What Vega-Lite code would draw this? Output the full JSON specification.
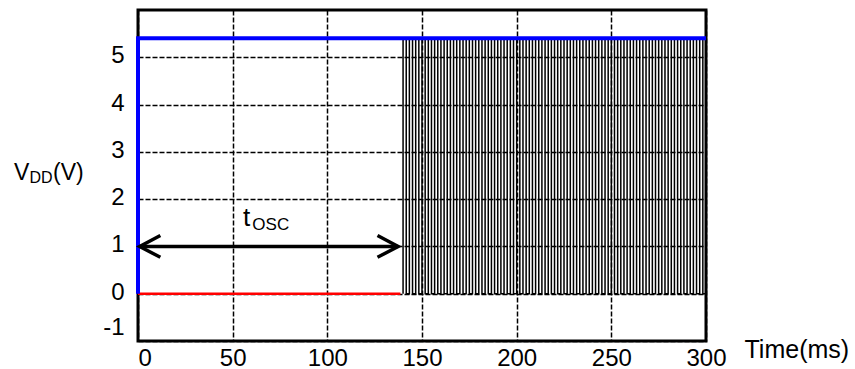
{
  "$schema": "https://vega.github.io/schema/vega-lite/v6.json",
  "width": 568,
  "height": 331,
  "autosize": {"type": "none"},
  "padding": {"left": 138, "top": 10, "right": 149, "bottom": 28},
  "config": {
    "view": {"stroke": "black", "strokeWidth": 3},
    "font": "Liberation Sans"
  },
  "datasets": {
    "wave": [
      {"t":140,"v":0},{"t":140,"v":5.4},{"t":141.67,"v":5.4},{"t":141.67,"v":0},
      {"t":143.33,"v":0},{"t":143.33,"v":5.4},{"t":145,"v":5.4},{"t":145,"v":0},
      {"t":146.67,"v":0},{"t":146.67,"v":5.4},{"t":148.33,"v":5.4},{"t":148.33,"v":0},
      {"t":150,"v":0},{"t":150,"v":5.4},{"t":151.67,"v":5.4},{"t":151.67,"v":0},
      {"t":153.33,"v":0},{"t":153.33,"v":5.4},{"t":155,"v":5.4},{"t":155,"v":0},
      {"t":156.67,"v":0},{"t":156.67,"v":5.4},{"t":158.33,"v":5.4},{"t":158.33,"v":0},
      {"t":160,"v":0},{"t":160,"v":5.4},{"t":161.67,"v":5.4},{"t":161.67,"v":0},
      {"t":163.33,"v":0},{"t":163.33,"v":5.4},{"t":165,"v":5.4},{"t":165,"v":0},
      {"t":166.67,"v":0},{"t":166.67,"v":5.4},{"t":168.33,"v":5.4},{"t":168.33,"v":0},
      {"t":170,"v":0},{"t":170,"v":5.4},{"t":171.67,"v":5.4},{"t":171.67,"v":0},
      {"t":173.33,"v":0},{"t":173.33,"v":5.4},{"t":175,"v":5.4},{"t":175,"v":0},
      {"t":176.67,"v":0},{"t":176.67,"v":5.4},{"t":178.33,"v":5.4},{"t":178.33,"v":0},
      {"t":180,"v":0},{"t":180,"v":5.4},{"t":181.67,"v":5.4},{"t":181.67,"v":0},
      {"t":183.33,"v":0},{"t":183.33,"v":5.4},{"t":185,"v":5.4},{"t":185,"v":0},
      {"t":186.67,"v":0},{"t":186.67,"v":5.4},{"t":188.33,"v":5.4},{"t":188.33,"v":0},
      {"t":190,"v":0},{"t":190,"v":5.4},{"t":191.67,"v":5.4},{"t":191.67,"v":0},
      {"t":193.33,"v":0},{"t":193.33,"v":5.4},{"t":195,"v":5.4},{"t":195,"v":0},
      {"t":196.67,"v":0},{"t":196.67,"v":5.4},{"t":198.33,"v":5.4},{"t":198.33,"v":0},
      {"t":200,"v":0},{"t":200,"v":5.4},{"t":201.67,"v":5.4},{"t":201.67,"v":0},
      {"t":203.33,"v":0},{"t":203.33,"v":5.4},{"t":205,"v":5.4},{"t":205,"v":0},
      {"t":206.67,"v":0},{"t":206.67,"v":5.4},{"t":208.33,"v":5.4},{"t":208.33,"v":0},
      {"t":210,"v":0},{"t":210,"v":5.4},{"t":211.67,"v":5.4},{"t":211.67,"v":0},
      {"t":213.33,"v":0},{"t":213.33,"v":5.4},{"t":215,"v":5.4},{"t":215,"v":0},
      {"t":216.67,"v":0},{"t":216.67,"v":5.4},{"t":218.33,"v":5.4},{"t":218.33,"v":0},
      {"t":220,"v":0},{"t":220,"v":5.4},{"t":221.67,"v":5.4},{"t":221.67,"v":0},
      {"t":223.33,"v":0},{"t":223.33,"v":5.4},{"t":225,"v":5.4},{"t":225,"v":0},
      {"t":226.67,"v":0},{"t":226.67,"v":5.4},{"t":228.33,"v":5.4},{"t":228.33,"v":0},
      {"t":230,"v":0},{"t":230,"v":5.4},{"t":231.67,"v":5.4},{"t":231.67,"v":0},
      {"t":233.33,"v":0},{"t":233.33,"v":5.4},{"t":235,"v":5.4},{"t":235,"v":0},
      {"t":236.67,"v":0},{"t":236.67,"v":5.4},{"t":238.33,"v":5.4},{"t":238.33,"v":0},
      {"t":240,"v":0},{"t":240,"v":5.4},{"t":241.67,"v":5.4},{"t":241.67,"v":0},
      {"t":243.33,"v":0},{"t":243.33,"v":5.4},{"t":245,"v":5.4},{"t":245,"v":0},
      {"t":246.67,"v":0},{"t":246.67,"v":5.4},{"t":248.33,"v":5.4},{"t":248.33,"v":0},
      {"t":250,"v":0},{"t":250,"v":5.4},{"t":251.67,"v":5.4},{"t":251.67,"v":0},
      {"t":253.33,"v":0},{"t":253.33,"v":5.4},{"t":255,"v":5.4},{"t":255,"v":0},
      {"t":256.67,"v":0},{"t":256.67,"v":5.4},{"t":258.33,"v":5.4},{"t":258.33,"v":0},
      {"t":260,"v":0},{"t":260,"v":5.4},{"t":261.67,"v":5.4},{"t":261.67,"v":0},
      {"t":263.33,"v":0},{"t":263.33,"v":5.4},{"t":265,"v":5.4},{"t":265,"v":0},
      {"t":266.67,"v":0},{"t":266.67,"v":5.4},{"t":268.33,"v":5.4},{"t":268.33,"v":0},
      {"t":270,"v":0},{"t":270,"v":5.4},{"t":271.67,"v":5.4},{"t":271.67,"v":0},
      {"t":273.33,"v":0},{"t":273.33,"v":5.4},{"t":275,"v":5.4},{"t":275,"v":0},
      {"t":276.67,"v":0},{"t":276.67,"v":5.4},{"t":278.33,"v":5.4},{"t":278.33,"v":0},
      {"t":280,"v":0},{"t":280,"v":5.4},{"t":281.67,"v":5.4},{"t":281.67,"v":0},
      {"t":283.33,"v":0},{"t":283.33,"v":5.4},{"t":285,"v":5.4},{"t":285,"v":0},
      {"t":286.67,"v":0},{"t":286.67,"v":5.4},{"t":288.33,"v":5.4},{"t":288.33,"v":0},
      {"t":290,"v":0},{"t":290,"v":5.4},{"t":291.67,"v":5.4},{"t":291.67,"v":0},
      {"t":293.33,"v":0},{"t":293.33,"v":5.4},{"t":295,"v":5.4},{"t":295,"v":0},
      {"t":296.67,"v":0},{"t":296.67,"v":5.4},{"t":298.33,"v":5.4},{"t":298.33,"v":0},
      {"t":300,"v":0},{"t":300,"v":5.4}
    ],
    "red": [{"t":0,"v":0},{"t":138.6,"v":0}],
    "blue": [{"t":0,"v":0},{"t":0,"v":5.4},{"t":300,"v":5.4}],
    "arrow": [
      {"g":"s","t":0.9,"v":1},{"g":"s","t":137.4,"v":1},
      {"g":"l","t":11.8,"v":1.23},{"g":"l","t":0.9,"v":1},{"g":"l","t":11.8,"v":0.77},
      {"g":"r","t":126.5,"v":1.23},{"g":"r","t":137.4,"v":1},{"g":"r","t":126.5,"v":0.77}
    ]
  },
  "layer": [
    {
      "data": {"name": "wave"},
      "mark": {"type": "line", "color": "black", "strokeWidth": 1.5},
      "encoding": {
        "x": {
          "field": "t", "type": "quantitative",
          "scale": {"domain": [0, 300], "nice": false, "zero": false},
          "axis": {
            "values": [0, 50, 100, 150, 200, 250, 300],
            "title": "Time(ms)", "titleX": 606, "titleY": 16, "titleAlign": "left",
            "titleAnchor": "start", "titleBaseline": "alphabetic",
            "titleFontSize": 25, "titleFontWeight": "normal", "titleColor": "black",
            "grid": true, "gridColor": "black", "gridDash": [5, 2], "gridWidth": 1.5, "gridOpacity": 1,
            "domain": false, "ticks": false,
            "labelFontSize": 24, "labelColor": "black", "labelPadding": 5, "labelFlush": false,
            "labelAlign": {"condition": {"test": "datum.value == 0", "value": "left"}, "value": "center"}
          }
        },
        "y": {
          "field": "v", "type": "quantitative",
          "scale": {"domain": [-1, 6], "nice": false, "zero": false},
          "axis": {
            "values": [-1, 0, 1, 2, 3, 4, 5],
            "title": null,
            "grid": true, "gridColor": "black", "gridDash": [5, 2], "gridWidth": 1.5, "gridOpacity": 1,
            "domain": false, "ticks": false,
            "labelExpr": "'' + datum.value",
            "labelFontSize": 24, "labelColor": "black", "labelPadding": 14, "labelFlush": true,
            "labelOffset": -1.5
          }
        },
        "order": {"value": null}
      }
    },
    {
      "data": {"name": "red"},
      "mark": {"type": "line", "color": "#ff0000", "strokeWidth": 2.5},
      "encoding": {
        "x": {"field": "t", "type": "quantitative"},
        "y": {"field": "v", "type": "quantitative"},
        "order": {"value": null}
      }
    },
    {
      "data": {"name": "blue"},
      "mark": {"type": "line", "color": "#0000ff", "strokeWidth": 4, "strokeJoin": "miter"},
      "encoding": {
        "x": {"field": "t", "type": "quantitative"},
        "y": {"field": "v", "type": "quantitative"},
        "order": {"value": null}
      }
    },
    {
      "data": {"name": "arrow"},
      "mark": {"type": "line", "color": "black", "strokeWidth": 3.5},
      "encoding": {
        "x": {"field": "t", "type": "quantitative"},
        "y": {"field": "v", "type": "quantitative"},
        "detail": {"field": "g"},
        "order": {"value": null}
      }
    },
    {
      "data": {"values": [{}]},
      "mark": {"type": "text", "text": "V", "align": "left", "baseline": "alphabetic", "fontSize": 23, "color": "black"},
      "encoding": {
        "x": {"datum": -65.5, "type": "quantitative"},
        "y": {"datum": 2.405, "type": "quantitative"}
      }
    },
    {
      "data": {"values": [{}]},
      "mark": {"type": "text", "text": "DD", "align": "left", "baseline": "alphabetic", "fontSize": 16, "color": "black"},
      "encoding": {
        "x": {"datum": -57.3, "type": "quantitative"},
        "y": {"datum": 2.335, "type": "quantitative"}
      }
    },
    {
      "data": {"values": [{}]},
      "mark": {"type": "text", "text": "(V)", "align": "left", "baseline": "alphabetic", "fontSize": 23, "color": "black"},
      "encoding": {
        "x": {"datum": -44.9, "type": "quantitative"},
        "y": {"datum": 2.405, "type": "quantitative"}
      }
    },
    {
      "data": {"values": [{}]},
      "mark": {"type": "text", "text": "t", "align": "left", "baseline": "alphabetic", "fontSize": 26, "color": "black"},
      "encoding": {
        "x": {"datum": 55.5, "type": "quantitative"},
        "y": {"datum": 1.432, "type": "quantitative"}
      }
    },
    {
      "data": {"values": [{}]},
      "mark": {"type": "text", "text": "OSC", "align": "left", "baseline": "alphabetic", "fontSize": 17, "color": "black"},
      "encoding": {
        "x": {"datum": 60.4, "type": "quantitative"},
        "y": {"datum": 1.347, "type": "quantitative"}
      }
    }
  ]
}
